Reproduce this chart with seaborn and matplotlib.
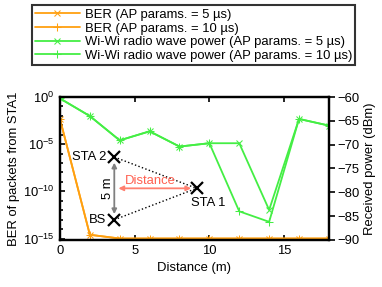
import seaborn as sns
import matplotlib.pyplot as plt
import matplotlib.ticker as mticker
import pandas as pd

distance = [0, 2, 4, 6, 8, 10, 12, 14, 16, 18]
ber_5us = [4.6e-3, 2.5e-15, 1e-15, 1e-15, 1e-15, 1e-15, 1e-15, 1e-15, 1e-15, 1e-15]
ber_10us = [4.6e-3, 2.5e-15, 1e-15, 1e-15, 1e-15, 1e-15, 1e-15, 1e-15, 1e-15, 1e-15]
power_5us = [-60.3, -64.0, -69.1, -67.2, -70.4, -69.7, -69.7, -83.7, -64.6, -66.0]
power_10us = [-60.3, -64.0, -69.1, -67.2, -70.4, -69.7, -84.0, -86.2, -64.6, -66.0]

labels = ["BER (AP params. = 5 µs)", "BER (AP params. = 10 µs)",
          "Wi-Wi radio wave power (AP params. = 5 µs)",
          "Wi-Wi radio wave power (AP params. = 10 µs)"]

orange = "#ffa010"
green = "#44ee44"

sns.set_style("ticks")
plt.rcParams['font.family'] = ['Liberation Sans', 'DejaVu Sans']
plt.rcParams['mathtext.fontset'] = 'custom'
plt.rcParams['mathtext.rm'] = 'Liberation Sans'
plt.rcParams['font.size'] = 9.4
for k in ('text.color', 'axes.labelcolor', 'xtick.color', 'ytick.color'):
    plt.rcParams[k] = 'black'

df = pd.DataFrame({"distance": distance, "ber5": ber_5us, "ber10": ber_10us,
                   "p5": power_5us, "p10": power_10us})

fig = plt.figure(figsize=(3.82, 2.87), dpi=100)
ax = fig.add_axes([0.157, 0.164, 0.704, 0.498])
ax2 = ax.twinx()

sns.lineplot(data=df, x="distance", y="ber5", ax=ax, color=orange, marker="x",
             markersize=5, markeredgecolor=orange, linewidth=1.3, label=labels[0])
sns.lineplot(data=df, x="distance", y="ber10", ax=ax, color=orange, marker="+",
             markersize=6, markeredgecolor=orange, linewidth=1.3, label=labels[1])
sns.lineplot(data=df, x="distance", y="p5", ax=ax2, color=green, marker="x",
             markersize=5, markeredgecolor=green, linewidth=1.3, label=labels[2])
sns.lineplot(data=df, x="distance", y="p10", ax=ax2, color=green, marker="+",
             markersize=6, markeredgecolor=green, linewidth=1.3, label=labels[3])

ax.set_yscale("log")
ax.set_ylim(10 ** -15.15, 1)
ax.set_yticks([1, 1e-5, 1e-10, 1e-15])
ax.yaxis.set_minor_locator(mticker.LogLocator(base=10, subs=(1.0,), numticks=40))
ax.yaxis.set_minor_formatter(mticker.NullFormatter())
ax.set_xlim(0, 18)
ax.set_xticks([0, 5, 10, 15])
ax2.set_ylim(-90, -60)
ax2.set_yticks([-60, -65, -70, -75, -80, -85, -90])
ax2.set_yticklabels(["\u221260", "\u221265", "\u221270", "\u221275", "\u221280", "\u221285", "\u221290"])

ax.set_xlabel("Distance (m)", labelpad=3)
ax.set_ylabel("BER of packets from STA1", labelpad=2)
ax2.set_ylabel("Received power (dBm)", labelpad=3)

ax.tick_params(axis="both", which="both", direction="in", top=True, width=1.2, pad=4)
ax.tick_params(axis="y", which="minor", length=2)
ax2.tick_params(axis="y", direction="out", width=1.2, length=4, pad=2)
for a in (ax, ax2):
    for s in a.spines.values():
        s.set_linewidth(1.6)
        s.set_color("black")

# legend above the axes
h1, l1 = ax.get_legend_handles_labels()
h2, l2 = ax2.get_legend_handles_labels()
ax.get_legend().remove()
ax2.get_legend().remove()
leg = fig.legend(h1 + h2, l1 + l2, loc="upper center", bbox_to_anchor=(0.507, 0.99),
                 frameon=True, fancybox=False, edgecolor="black", handlelength=3.4,
                 borderpad=0.25, labelspacing=0.12, handletextpad=0.4, borderaxespad=0.2)
leg.get_frame().set_linewidth(1.5)

# layout sketch inside the plot
sta2 = (0.202, 0.58)
bs = (0.202, 0.141)
sta1 = (0.508, 0.361)
tr = ax.transAxes
for p in (sta2, bs, sta1):
    ax.plot(*p, marker="x", color="black", markersize=8, markeredgewidth=1.6, transform=tr)
ax.plot([sta2[0], sta1[0]], [sta2[1], sta1[1]], ":", color="black", lw=1, transform=tr)
ax.plot([bs[0], sta1[0]], [bs[1], sta1[1]], ":", color="black", lw=1, transform=tr)
ax.annotate("", xy=(bs[0], bs[1] + 0.02), xytext=(sta2[0], sta2[1] - 0.02), xycoords=tr,
            arrowprops=dict(arrowstyle="<|-|>", color="gray", lw=1.3, mutation_scale=7))
ax.annotate("", xy=(sta2[0] + 0.005, sta1[1]), xytext=(sta1[0] - 0.01, sta1[1]), xycoords=tr,
            arrowprops=dict(arrowstyle="<|-|>", color="#ff8070", lw=1.3, mutation_scale=7))
ax.text(sta2[0] - 0.03, sta2[1], "STA 2", ha="right", va="center", transform=tr)
ax.text(bs[0] - 0.03, bs[1], "BS", ha="right", va="center", transform=tr)
ax.text(sta1[0] - 0.02, sta1[1] - 0.06, "STA 1", ha="left", va="top", transform=tr)
ax.text(sta2[0] - 0.022, (sta2[1] + bs[1]) / 2, "5 m", rotation=90, ha="center", va="center", transform=tr)
ax.text(0.335, sta1[1] + 0.01, "Distance", color="#ff6050", ha="center", va="bottom", transform=tr)

fig.savefig("out.png", dpi=100)
